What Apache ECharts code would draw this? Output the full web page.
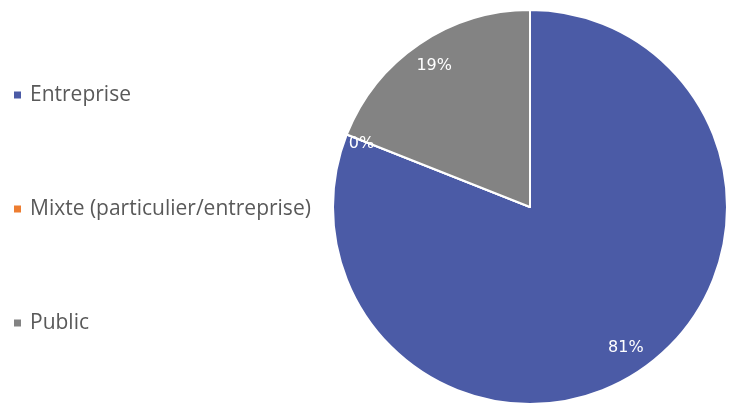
<!DOCTYPE html>
<html>
<head>
<meta charset="utf-8">
<script src="https://cdn.jsdelivr.net/npm/echarts@6/dist/echarts.min.js"></script>
<style>
  html, body { margin: 0; padding: 0; background: #fff; }
  #chart { width: 730px; height: 404px; }
</style>
</head>
<body>
<div id="chart"></div>
<script>
// Répartition par type de client (%)
const categories = ['Entreprise', 'Mixte (particulier/entreprise)', 'Public'];
const values = [81, 0, 19];
const colors = ['#4b5ba6', '#ed7d31', '#838383'];

const chart = echarts.init(document.getElementById('chart'));

const pieData = categories.map((name, i) => ({
  name,
  value: values[i],
  itemStyle: { color: colors[i] }
}));

// une part nulle n'a pas d'angle : son étiquette est décalée vers le bord
const labelData = categories.map((name, i) => ({
  name,
  value: values[i],
  label: values[i] === 0 ? { offset: [-10, 0] } : {}
}));

chart.setOption({
  animation: false,
  legend: {
    orient: 'vertical',
    left: 7,
    top: 78,
    icon: 'rect',
    itemWidth: 9,
    itemHeight: 9,
    itemGap: 90,
    textStyle: {
      fontFamily: 'Open Sans, sans-serif',
      fontSize: 21,
      lineHeight: 24,
      color: '#595959',
      padding: [0, 0, 0, 3]
    },
    data: categories
  },
  series: [
    {
      type: 'pie',
      center: [530, 207],
      radius: [0, 197],
      startAngle: 90,
      clockwise: true,
      label: { show: false },
      labelLine: { show: false },
      itemStyle: { borderColor: '#ffffff', borderWidth: 2 },
      emphasis: { disabled: true },
      data: pieData
    },
    {
      // couche des étiquettes de pourcentage, posées près du bord
      type: 'pie',
      center: [530, 207],
      radius: [138, 197],
      startAngle: 90,
      clockwise: true,
      silent: true,
      legendHoverLink: false,
      itemStyle: { color: 'rgba(0,0,0,0)', borderWidth: 0 },
      label: {
        show: true,
        position: 'inside',
        formatter: p => p.value + '%',
        color: '#ffffff',
        fontFamily: 'DejaVu Sans, sans-serif',
        fontSize: 16
      },
      labelLine: { show: false },
      emphasis: { disabled: true },
      data: labelData
    }
  ]
});
</script>
</body>
</html>
